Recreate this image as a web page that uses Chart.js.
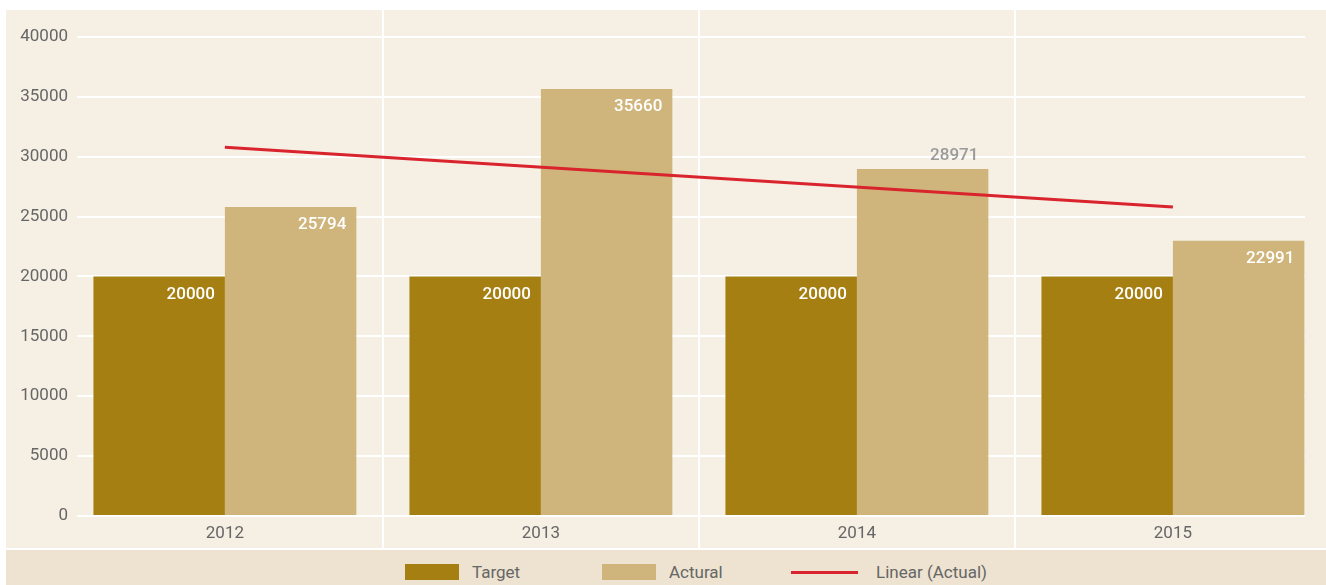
<!DOCTYPE html>
<html>
<head>
<meta charset="utf-8">
<script src="https://cdn.jsdelivr.net/npm/chart.js@4.4.1/dist/chart.umd.min.js"></script>
<style>
  html, body { margin: 0; padding: 0; background: #ffffff; width: 1326px; height: 585px; overflow: hidden; }
  #wrap { position: absolute; left: 6px; top: 10px; width: 1320px; height: 538px; background: #f5efe4; }
  #legend {
    position: absolute; left: 6px; top: 550px; width: 1320px; height: 35px;
    background: #ede3d0; display: flex; align-items: center; box-sizing: border-box;
    padding-left: 399px; padding-top: 9px; font-family: Roboto, sans-serif; font-size: 17px; color: #666666;
  }
  .item { display: flex; align-items: center; }
  .item:nth-child(1) { width: 197px; }
  .item:nth-child(2) { width: 189px; }
  .swatch { width: 54px; height: 16px; margin-right: 13px; }
  .swatch.line { width: 67px; height: 3px; margin-right: 18px; }
</style>
</head>
<body>
<div id="wrap"><canvas id="chart"></canvas></div>
<div id="legend"></div>
<script>
// Yearly figures
const years = ['2012', '2013', '2014', '2015'];
const targetValues = [20000, 20000, 20000, 20000];
const actualValues = [25794, 35660, 28971, 22991];
// Linear trend of the actual figures, at the first and last year
const trendValues = [30800, 25800];
// Value axis ticks
const yTickValues = [0, 5000, 10000, 15000, 20000, 25000, 30000, 35000, 40000];

const COLORS = {
  target: '#a57f12',
  actual: '#cfb57b',
  trend: '#d9232d',
  tick: '#666666'
};

// White value labels inside the bar tops (grey above the bar where flagged)
const barValueLabels = {
  id: 'barValueLabels',
  afterDatasetsDraw(chart) {
    const ctx = chart.ctx;
    ctx.save();
    ctx.font = '500 17px Roboto, sans-serif';
    ctx.textAlign = 'right';
    ctx.textBaseline = 'middle';
    chart.data.datasets.forEach((ds, di) => {
      if (ds.type === 'line') return;
      const meta = chart.getDatasetMeta(di);
      meta.data.forEach((el, i) => {
        const p = el.getProps(['x', 'y', 'width'], true);
        const text = String(ds.data[i].y);
        const outside = ds.outsideLabels && ds.outsideLabels[i];
        ctx.fillStyle = outside ? '#9a9a9a' : '#ffffff';
        const y = outside ? p.y - 13 : p.y + 18;
        ctx.fillText(text, p.x + p.width / 2 - 10, y);
      });
    });
    ctx.restore();
  }
};

const chart = new Chart(document.getElementById('chart'), {
  type: 'bar',
  data: {
    datasets: [
      {
        label: 'Target',
        data: targetValues.map((v, i) => ({ x: i, y: v })),
        backgroundColor: COLORS.target,
        borderWidth: 0,
        order: 1
      },
      {
        label: 'Actural',
        data: actualValues.map((v, i) => ({ x: i, y: v })),
        backgroundColor: COLORS.actual,
        borderWidth: 0,
        outsideLabels: [false, false, true, false],
        order: 1
      },
      {
        type: 'line',
        label: 'Linear (Actual)',
        data: [
          { x: 0, y: trendValues[0] },
          { x: years.length - 1, y: trendValues[1] }
        ],
        borderColor: COLORS.trend,
        backgroundColor: COLORS.trend,
        borderWidth: 3,
        pointRadius: 0,
        fill: false,
        order: 0
      }
    ]
  },
  options: {
    responsive: true,
    maintainAspectRatio: false,
    animation: false,
    datasets: {
      bar: { categoryPercentage: 0.832, barPercentage: 1.0 }
    },
    layout: { padding: { left: 0, right: 21, top: 0, bottom: 0 } },
    scales: {
      x: {
        type: 'linear',
        offset: false,
        min: -0.468,
        max: 3.418,
        border: { display: false },
        grid: {
          offset: true,
          color: '#ffffff',
          lineWidth: 2,
          drawTicks: true,
          tickLength: 32,
          tickColor: '#ffffff',
          tickWidth: 2
        },
        ticks: {
          padding: -24,
          maxRotation: 0,
          autoSkip: false,
          color: COLORS.tick,
          font: { family: 'Roboto, sans-serif', size: 17 },
          callback: (value) => years[value]
        },
        afterBuildTicks(scale) {
          scale.ticks = years.map((_, i) => ({ value: i }));
        },
        afterFit(scale) {
          scale.height = 32;
        }
      },
      y: {
        min: 0,
        max: 42250,
        border: { display: false },
        grid: { color: '#ffffff', lineWidth: 2, drawTicks: false },
        ticks: {
          padding: 9,
          autoSkip: false,
          color: COLORS.tick,
          font: { family: 'Roboto, sans-serif', size: 17 },
          callback: (value) => String(value)
        },
        afterBuildTicks(scale) {
          scale.ticks = yTickValues.map(v => ({ value: v }));
        },
        afterFit(scale) {
          scale.width = 71;
          scale.paddingTop = 0;
          scale.paddingBottom = 0;
        }
      }
    },
    plugins: {
      legend: { display: false },
      tooltip: { enabled: false }
    }
  },
  plugins: [barValueLabels]
});

// Legend row built from the chart's datasets
const legendEl = document.getElementById('legend');
chart.data.datasets.forEach(ds => {
  const item = document.createElement('div');
  item.className = 'item';
  const sw = document.createElement('div');
  sw.className = ds.type === 'line' ? 'swatch line' : 'swatch';
  sw.style.background = ds.type === 'line' ? ds.borderColor : ds.backgroundColor;
  const label = document.createElement('span');
  label.textContent = ds.label;
  item.appendChild(sw);
  item.appendChild(label);
  legendEl.appendChild(item);
});
</script>
</body>
</html>
